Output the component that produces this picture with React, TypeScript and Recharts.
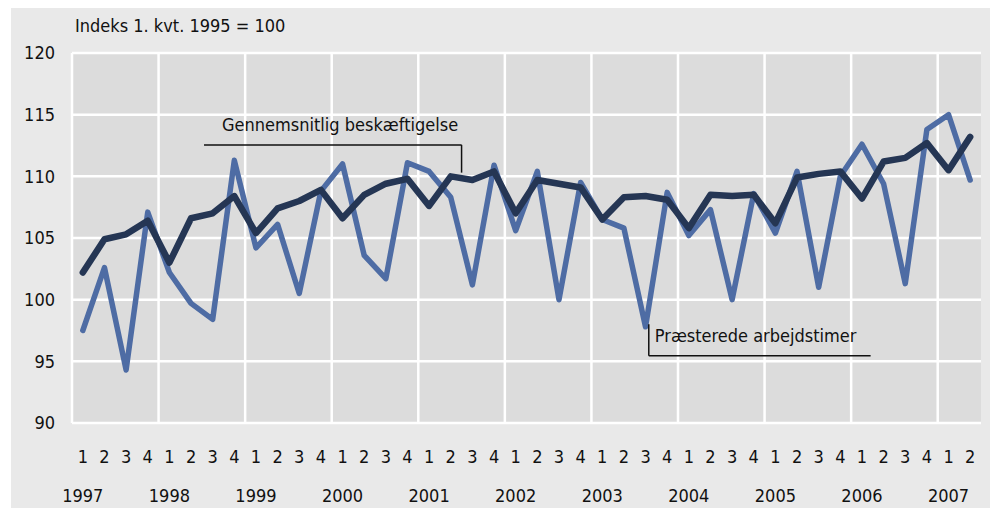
import { LineChart, Line, XAxis, YAxis, CartesianGrid, ReferenceLine } from 'recharts';

// Indeks 1. kvt. 1995 = 100, kvartaler 1997K1 - 2007K2
const years = ['1997', '1998', '1999', '2000', '2001', '2002', '2003', '2004', '2005', '2006', '2007'];

const beskaeftigelse = [
  102.2, 104.9, 105.3, 106.4,
  103.0, 106.6, 107.0, 108.4,
  105.4, 107.4, 108.0, 108.9,
  106.6, 108.5, 109.4, 109.8,
  107.6, 110.0, 109.7, 110.4,
  107.0, 109.7, 109.4, 109.1,
  106.5, 108.3, 108.4, 108.1,
  105.8, 108.5, 108.4, 108.5,
  106.2, 109.9, 110.2, 110.4,
  108.2, 111.2, 111.5, 112.7,
  110.5, 113.2,
];

const arbejdstimer = [
  97.5, 102.6, 94.3, 107.1,
  102.2, 99.7, 98.4, 111.3,
  104.2, 106.1, 100.5, 108.8,
  111.0, 103.6, 101.7, 111.1,
  110.4, 108.3, 101.2, 110.9,
  105.6, 110.4, 100.0, 109.5,
  106.5, 105.8, 97.8, 108.7,
  105.2, 107.3, 100.0, 108.6,
  105.4, 110.4, 101.0, 110.0,
  112.6, 109.4, 101.3, 113.8,
  115.0, 109.7,
];

const yTicks = [90, 95, 100, 105, 110, 115, 120];

const data = beskaeftigelse.map((v, i) => ({
  idx: i,
  quarter: (i % 4) + 1,
  year: i % 4 === 0 ? years[i / 4] : '',
  besk: v,
  timer: arbejdstimer[i],
}));

const xTicks = data.map((d) => d.idx);
// skillelinjer mellem årene
const yearBreaks = years.map((_, k) => k * 4 - 0.5);

const FONT = "'Liberation Sans Narrow', 'DejaVu Sans Condensed', sans-serif";
const FS = 18;

const QuarterTick = (props: any) => {
  const { x, y, payload } = props;
  const d = data[payload.value];
  return (
    <g>
      <text x={x} y={y + 40} textAnchor="middle" fontSize={FS} fill="#111" fontFamily={FONT}>
        {d.quarter}
      </text>
      {d.year && (
        <text x={x} y={y + 79} textAnchor="middle" fontSize={FS} fill="#111" fontFamily={FONT}>
          {d.year}
        </text>
      )}
    </g>
  );
};

export default function App() {
  return (
    <div style={{ position: 'relative', marginLeft: 3, width: 982, height: 500, background: '#e9e9e9' }}>
      <div
        style={{
          position: 'absolute', left: 64, top: 8, fontFamily: FONT, fontSize: FS,
          lineHeight: '20px', color: '#111',
        }}
      >
        Indeks 1. kvt. 1995 = 100
      </div>
      <LineChart width={982} height={500} data={data} margin={{ top: 45, right: 12, left: 0, bottom: 0 }}>
        <CartesianGrid vertical={false} stroke="#fff" strokeWidth={2.5} fill="#dcdcdc" fillOpacity={1} />
        {yearBreaks.map((b) => (
          <ReferenceLine key={b} x={b} stroke="#fff" strokeWidth={2.5} />
        ))}
        <XAxis
          dataKey="idx"
          type="number"
          domain={[-0.5, 41.5]}
          ticks={xTicks}
          interval={0}
          axisLine={false}
          tickLine={false}
          tickSize={0}
          tickMargin={0}
          height={85}
          tick={<QuarterTick />}
        />
        <YAxis
          domain={[90, 120]}
          ticks={yTicks}
          width={61}
          axisLine={false}
          tickLine={false}
          tickSize={0}
          tickMargin={17}
          tick={{ fill: '#111', fontSize: FS, fontFamily: FONT }}
        />
        <Line
          dataKey="timer"
          stroke="#4e6ca4"
          strokeWidth={5.5}
          dot={false}
          strokeLinejoin="round"
          strokeLinecap="round"
          isAnimationActive={false}
        />
        <Line
          dataKey="besk"
          stroke="#253654"
          strokeWidth={6.5}
          dot={false}
          strokeLinejoin="round"
          strokeLinecap="round"
          isAnimationActive={false}
        />
        {/* annotation: Gennemsnitlig beskæftigelse */}
        <ReferenceLine
          segment={[{ x: 5.6, y: 112.55 }, { x: 17.5, y: 112.55 }]}
          stroke="#111"
          strokeWidth={1.5}
          label={(p: any) => (
            <text x={p.viewBox.x + 18} y={p.viewBox.y - 14} fontSize={FS} fill="#111" fontFamily={FONT}>
              Gennemsnitlig beskæftigelse
            </text>
          )}
        />
        <ReferenceLine segment={[{ x: 17.5, y: 112.55 }, { x: 17.5, y: 110.3 }]} stroke="#111" strokeWidth={1.5} />
        {/* annotation: Præsterede arbejdstimer */}
        <ReferenceLine segment={[{ x: 26.15, y: 98.0 }, { x: 26.15, y: 95.45 }]} stroke="#111" strokeWidth={1.5} />
        <ReferenceLine
          segment={[{ x: 26.15, y: 95.45 }, { x: 36.4, y: 95.45 }]}
          stroke="#111"
          strokeWidth={1.5}
          label={(p: any) => (
            <text x={p.viewBox.x + 6} y={p.viewBox.y - 14} fontSize={FS} fill="#111" fontFamily={FONT}>
              Præsterede arbejdstimer
            </text>
          )}
        />
      </LineChart>
    </div>
  );
}
